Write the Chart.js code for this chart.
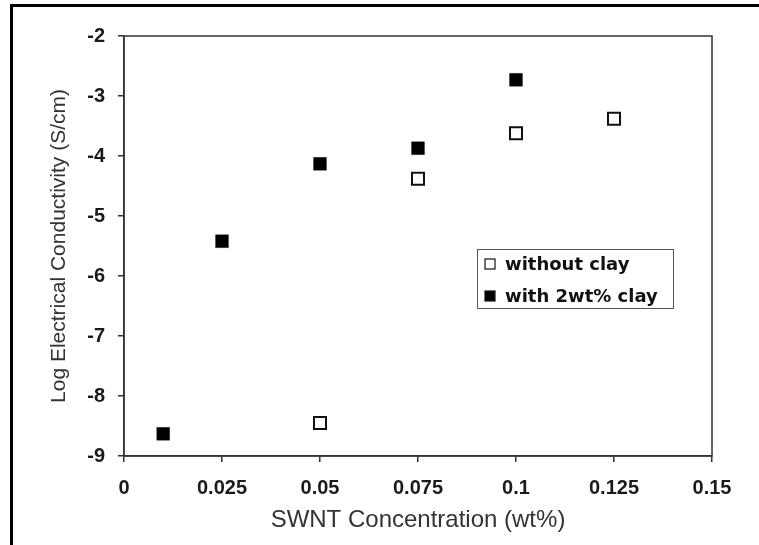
<!DOCTYPE html>
<html>
<head>
<meta charset="utf-8">
<title>SWNT conductivity</title>
<script src="https://cdn.jsdelivr.net/npm/chart.js@4/dist/chart.umd.min.js"></script>
<style>
  html, body { margin: 0; padding: 0; background: #fff; }
  #wrap { position: relative; width: 759px; height: 545px; }
</style>
</head>
<body>
<div id="wrap"><canvas id="chart" width="759" height="545"></canvas></div>
<script>
// Series
const seriesNames = ['without clay', 'with 2wt% clay'];
const xWithout = [0.05, 0.075, 0.1, 0.125];
const yWithout = [-8.45, -4.38, -3.62, -3.38];
const xWith = [0.01, 0.025, 0.05, 0.075, 0.1];
const yWith = [-8.63, -5.42, -4.13, -3.87, -2.73];

// Axis ticks
const xTickValues = [0, 0.025, 0.05, 0.075, 0.1, 0.125, 0.15];
const xTickLabels = ['0', '0.025', '0.05', '0.075', '0.1', '0.125', '0.15'];
const yTickValues = [-9, -8, -7, -6, -5, -4, -3, -2];
const yTickLabels = ['-9', '-8', '-7', '-6', '-5', '-4', '-3', '-2'];

const axisColor = '#333';
const tickFont = { family: '"Liberation Sans", Arial, sans-serif', size: 20, weight: 'bold' };

function toPoints(xs, ys) {
    return xs.map((x, i) => ({ x: x, y: ys[i] }));
}

// black frame lines (top and left) plus the box round the plot area
const framePlugin = {
    id: 'frame',
    beforeDraw(chart) {
        const ctx = chart.ctx;
        ctx.save();
        ctx.fillStyle = '#000';
        ctx.fillRect(10, 4, chart.width - 10, 3);
        ctx.fillRect(10, 4, 3, chart.height - 4);
        ctx.restore();
    },
    afterDatasetsDraw(chart) {
        const a = chart.chartArea;
        const ctx = chart.ctx;
        ctx.save();
        ctx.strokeStyle = axisColor;
        ctx.lineWidth = 1.5;
        ctx.strokeRect(a.left, a.top, a.right - a.left, a.bottom - a.top);
        ctx.restore();
    }
};

// legend box drawn inside the plot, from the datasets
const boxLegend = {
    id: 'boxLegend',
    afterDraw(chart) {
        const ctx = chart.ctx;
        const left = 477, top = 249, w = 196, h = 59;
        ctx.save();
        ctx.fillStyle = '#fff';
        ctx.fillRect(left, top, w, h);
        ctx.strokeStyle = '#555';
        ctx.lineWidth = 1;
        ctx.strokeRect(left + 0.5, top + 0.5, w, h);
        ctx.font = 'bold 18px "DejaVu Sans", Verdana, sans-serif';
        ctx.textBaseline = 'middle';
        chart.data.datasets.forEach((ds, i) => {
            const cy = top + 15 + i * 32;
            ctx.fillStyle = ds.backgroundColor;
            ctx.fillRect(485, cy - 5, 10, 10);
            ctx.strokeStyle = '#111';
            ctx.lineWidth = 1.2;
            ctx.strokeRect(485, cy - 5, 10, 10);
            ctx.fillStyle = '#111';
            ctx.fillText(ds.label, 505, cy + 1);
        });
        ctx.restore();
    }
};

new Chart(document.getElementById('chart').getContext('2d'), {
    type: 'scatter',
    data: {
        datasets: [{
            label: seriesNames[0],
            data: toPoints(xWithout, yWithout),
            pointStyle: 'rect',
            pointRadius: 8.5,
            backgroundColor: '#fff',
            borderColor: '#111',
            borderWidth: 2
        }, {
            label: seriesNames[1],
            data: toPoints(xWith, yWith),
            pointStyle: 'rect',
            pointRadius: 9,
            backgroundColor: '#000',
            borderColor: '#000',
            borderWidth: 0.5
        }]
    },
    options: {
        responsive: false,
        animation: false,
        layout: { padding: { left: 0, top: 36, right: 47, bottom: 0 } },
        plugins: {
            legend: { display: false },
            tooltip: { enabled: false }
        },
        scales: {
            x: {
                type: 'linear',
                min: 0,
                max: 0.15,
                afterFit(scale) { scale.height = 89; },
                afterBuildTicks(scale) { scale.ticks = xTickValues.map(v => ({ value: v })); },
                ticks: {
                    padding: 14,
                    color: '#1a1a1a',
                    font: tickFont,
                    callback: (v, i) => xTickLabels[i]
                },
                grid: { drawOnChartArea: false, drawTicks: true, tickLength: 6, color: axisColor, lineWidth: 1.5 },
                border: { display: true, color: axisColor, width: 1.5 },
                title: {
                    display: true,
                    text: 'SWNT Concentration (wt%)',
                    color: '#333',
                    font: { family: '"Liberation Sans", Arial, sans-serif', size: 24 },
                    padding: { top: 0, bottom: 10 }
                }
            },
            y: {
                type: 'linear',
                min: -9,
                max: -2,
                afterFit(scale) { scale.width = 124; },
                afterBuildTicks(scale) { scale.ticks = yTickValues.map(v => ({ value: v })); },
                ticks: {
                    padding: 13,
                    color: '#1a1a1a',
                    font: tickFont,
                    callback: (v, i) => yTickLabels[i]
                },
                grid: { drawOnChartArea: false, drawTicks: true, tickLength: 6, color: axisColor, lineWidth: 1.5 },
                border: { display: true, color: axisColor, width: 1.5 },
                title: {
                    display: true,
                    text: 'Log Electrical Conductivity (S/cm)',
                    color: '#333',
                    font: { family: '"Liberation Sans", Arial, sans-serif', size: 21 },
                    padding: { top: 47, bottom: 0 }
                }
            }
        }
    },
    plugins: [framePlugin, boxLegend]
});
</script>
</body>
</html>
